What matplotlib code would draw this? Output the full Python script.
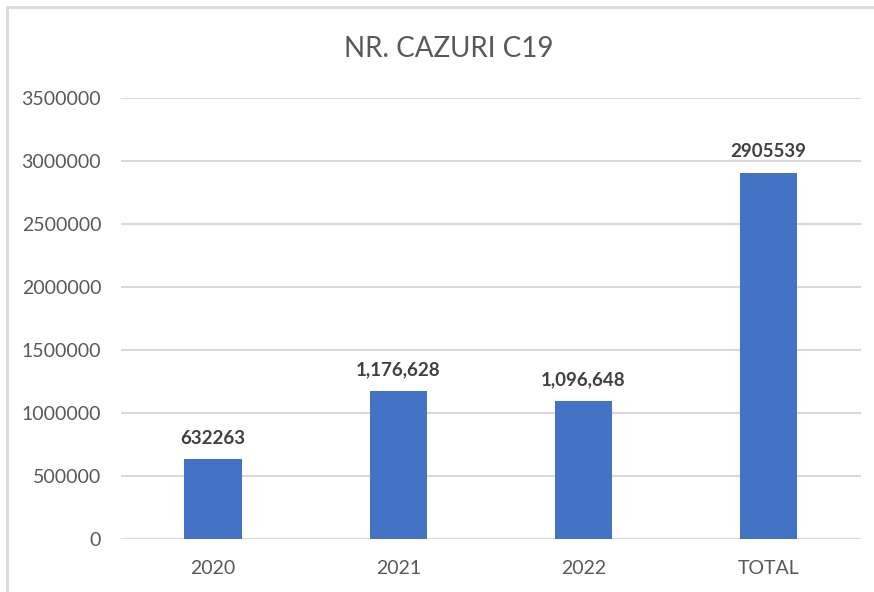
import matplotlib.pyplot as plt
from matplotlib.patches import Rectangle

# data
categories = ["2020", "2021", "2022", "TOTAL"]
cases = [632263, 1176628, 1096648, 2905539]
labels = ["632263", "1,176,628", "1,096,648", "2905539"]
yticks = [0, 500000, 1000000, 1500000, 2000000, 2500000, 3000000, 3500000]

plt.rcParams['font.family'] = ['Lato', 'DejaVu Sans']

fig = plt.figure(figsize=(8.74, 5.92), dpi=100)
ax = fig.add_axes([0.138, 0.0895, 0.847, 0.745])

# outer chart border (cut off at right and bottom like the screenshot)
fig.patches.append(Rectangle((7 / 874, -0.05), 1.2, 1.05 - 7 / 592,
                             transform=fig.transFigure, fill=False,
                             edgecolor='#d9d9d9', linewidth=2))

x = range(len(categories))
bars = ax.bar(x, cases, width=0.31, color='#4472C4', zorder=3)

for b, lab in zip(bars, labels):
    ax.annotate(lab, (b.get_x() + b.get_width() / 2, b.get_height()),
                xytext=(0, 9), textcoords='offset points', ha='center', va='bottom',
                fontsize=13.5, fontweight='bold', color='#404040')

ax.set_xlim(-0.5, len(categories) - 0.5)
ax.set_ylim(0, 3500000)
ax.set_yticks(yticks)
ax.set_yticklabels([str(v) for v in yticks])
ax.set_xticks(list(x))
ax.set_xticklabels(categories)
ax.tick_params(axis='both', length=0, labelsize=14, labelcolor='#595959')
ax.tick_params(axis='y', pad=14)
ax.tick_params(axis='x', pad=15)
ax.grid(axis='y', color='#d9d9d9', linewidth=1.5, zorder=0)
for s in ax.spines.values():
    s.set_visible(False)

fig.text(0.513, 0.918, "NR. CAZURI C19", ha='center', va='center',
         fontsize=20, color='#595959')

fig.savefig("out.png", dpi=100)
